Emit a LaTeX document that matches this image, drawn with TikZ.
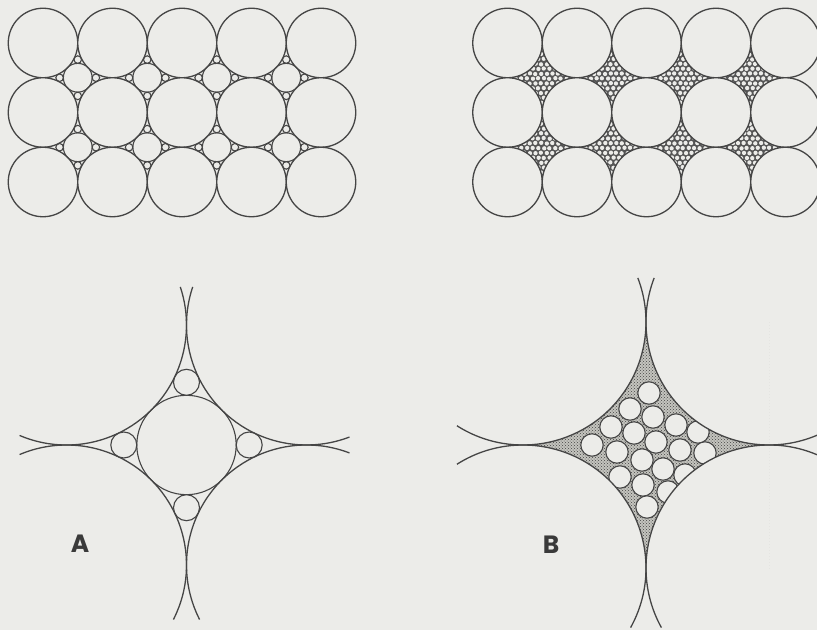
\documentclass[tikz,border=0pt]{standalone}
\usepackage{fontspec}
\setmainfont{Poppins}
\usetikzlibrary{patterns}
\definecolor{bg}{HTML}{ECECE9}
\definecolor{ink}{HTML}{454545}
\definecolor{packdark}{HTML}{555555}
\definecolor{stip}{HTML}{C4C4BE}
\definecolor{lblink}{HTML}{3A3A3A}
\tikzset{
  grain/.style={draw=ink, line width=1.1pt, fill=bg},
  bigc/.style={draw=ink, line width=1.3pt, fill=bg},
  arcline/.style={draw=ink, line width=1.3pt},
  lbl/.style={font=\fontsize{25}{25}\selectfont\bfseries, text=lblink, inner sep=0pt},
}
\begin{document}
\begin{tikzpicture}[x=1pt,y=1pt]
\fill[bg] (0,0) rectangle (817,630);
\useasboundingbox (0,0) rectangle (817,630);
\pgfmathsetseed{7}
\def\R{34.75}
% ---------- top-left grid: ordered interstitial circles ----------
\foreach \gx in {77.75,147.25,216.75,286.25}
 \foreach \gy in {552.25,482.75} {
   \draw[grain] (\gx,\gy) circle (14.39);
   \foreach \a in {0,90,180,270}
     \draw[grain] (\gx,\gy) ++(\a:18.15) circle (3.76);
 }
\foreach \cx in {43,112.5,182,251.5,321}
 \foreach \cy in {587,517.5,448}
   \draw[bigc] (\cx,\cy) circle (\R);
% ---------- top-right grid: densely packed fines ----------
\foreach \gx in {542.25,611.75,681.25,750.75}
 \foreach \gy in {552.25,482.75} {
   \begin{scope}
   \clip (\gx-\R,\gy-\R) rectangle (\gx+\R,\gy+\R);
   \fill[packdark] (\gx-\R,\gy-\R) rectangle (\gx+\R,\gy+\R);
   \foreach \j in {0,...,15}
     \foreach \i in {0,...,13} {
       \pgfmathsetmacro\px{\gx-\R+\i*5.6+mod(\j,2)*2.8+(rnd-0.5)*0.8}
       \pgfmathsetmacro\py{\gy-\R+\j*4.85+(rnd-0.5)*0.8}
       \fill[bg] (\px,\py) circle (2.15);
     }
   \end{scope}
 }
\foreach \cx in {507.5,577,646.5,716,785.5}
 \foreach \cy in {587,517.5,448}
   \draw[bigc] (\cx,\cy) circle (\R);
% ---------- panel A ----------
\coordinate (A0) at (186.5,185);
\coordinate (Atl) at (66.5,305);
\coordinate (Atr) at (306.5,305);
\coordinate (Abr) at (306.5,65);
\coordinate (Abl) at (66.5,65);
\draw[grain] (A0) circle (49.7);
\foreach \a in {0,90,180,270}
  \draw[grain] (A0) ++(\a:62.7) circle (13);
\draw[arcline] (Atl) ++(247:120) arc[start angle=247, end angle=378.5, radius=120];
\draw[arcline] (Atr) ++(161.5:120) arc[start angle=161.5, end angle=291, radius=120];
\draw[arcline] (Abr) ++(69:120) arc[start angle=69, end angle=207, radius=120];
\draw[arcline] (Abl) ++(-27:120) arc[start angle=-27, end angle=113, radius=120];
\node[lbl] (labA) at (80,86) {A};
% ---------- panel B ----------
\coordinate (Btl) at (523,308);
\coordinate (Btr) at (769,308);
\coordinate (Bbr) at (769,62);
\coordinate (Bbl) at (523,62);
\begin{scope}
  \clip (Bbl) rectangle (Btr);
  \fill[stip] (Bbl) rectangle (Btr);
  \fill[pattern=crosshatch dots, pattern color=ink] (Bbl) rectangle (Btr);
  \foreach \px/\py in {649/237,630/221,653/213,611/203,634/197,676/205,698/198,
      592/185,617/178,656/188,680/180,705/177,642/170,663/161,620/153,643/145,
      685/155,668/138,647/123}
    \draw[grain] (\px,\py) circle (11.2);
  \foreach \c in {Btl,Btr,Bbr,Bbl}
    \fill[bg] (\c) circle (123);
\end{scope}
\draw[arcline] (Btl) ++(237.5:123) arc[start angle=237.5, end angle=381, radius=123];
\draw[arcline] (Btr) ++(159:123) arc[start angle=159, end angle=300, radius=123];
\draw[arcline] (Bbr) ++(60:123) arc[start angle=60, end angle=209, radius=123];
\draw[arcline] (Bbl) ++(-29:123) arc[start angle=-29, end angle=122.5, radius=123];
\node[lbl] (labB) at (551,85.5) {B};
\end{tikzpicture}
\end{document}
